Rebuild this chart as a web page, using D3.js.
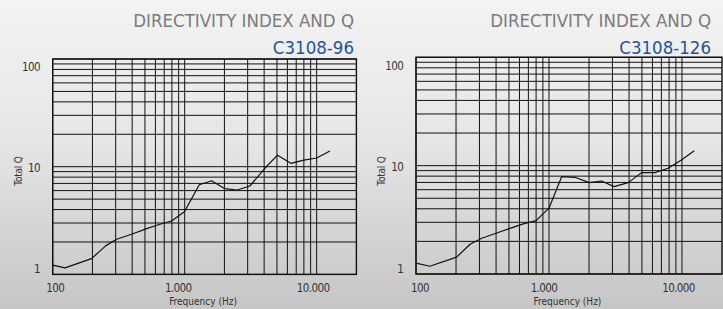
<!DOCTYPE html>
<html>
<head>
<meta charset="utf-8">
<script src="https://cdn.jsdelivr.net/npm/d3@7"></script>
<style>
  html, body { margin: 0; padding: 0; }
  body { width: 723px; height: 309px; overflow: hidden; }
  svg { display: block; }
</style>
</head>
<body>
<script>
// Courbes (fréquence en Hz, Q total)
const freq96 = [100, 124, 197, 253, 305, 396, 515, 650, 795, 995, 1290, 1600, 2016, 2500, 3120, 4050, 5050, 6375, 8000, 10000, 12600];
const q96    = [1.22, 1.15, 1.40, 1.85, 2.12, 2.36, 2.66, 2.92, 3.13, 3.82, 6.8, 7.4, 6.25, 6.08, 6.62, 9.67, 12.8, 10.75, 11.5, 12.05, 14.0];

const freq126 = [100, 127, 202, 255, 312, 400, 509, 641, 800, 1000, 1245, 1566, 2008, 2489, 3087, 3943, 4972, 6263, 7866, 9904, 12360];
const q126    = [1.26, 1.18, 1.43, 1.88, 2.14, 2.38, 2.64, 2.90, 3.11, 4.05, 7.91, 7.81, 6.97, 7.22, 6.4, 6.97, 8.62, 8.62, 9.46, 11.3, 13.7];

const titles = ["DIRECTIVITY INDEX AND Q", "DIRECTIVITY INDEX AND Q"];
const models = ["C3108-96", "C3108-126"];
const xTickValues = [100, 1000, 10000];
const xTickLabels = ["100", "1.000", "10.000"];
const yTickValues = [1, 10, 100];
const yTickLabels = ["1", "10", "100"];
const xLabel = "Frequency (Hz)";
const yLabel = "Total Q";

const W = 723, H = 309;
const font = "'Liberation Sans Narrow', 'DejaVu Sans Condensed', 'Liberation Sans', sans-serif";

const svg = d3.select("body").append("svg")
    .attr("width", W)
    .attr("height", H)
    .attr("viewBox", [0, 0, W, H]);

// fond dégradé gris
const defs = svg.append("defs");
const grad = defs.append("linearGradient")
    .attr("id", "bg")
    .attr("x1", 0).attr("y1", 0).attr("x2", 0).attr("y2", 1);
grad.append("stop").attr("offset", "0%").attr("stop-color", "#f3f3f3");
grad.append("stop").attr("offset", "45%").attr("stop-color", "#e6e6e6");
grad.append("stop").attr("offset", "100%").attr("stop-color", "#c6c6c6");
svg.append("rect").attr("width", W).attr("height", H).attr("fill", "url(#bg)");

// lignes de la grille : 1..9 par décade
function decadeValues(from, to) {
    const v = [];
    for (let d = from; d < to; d *= 10) {
        for (let k = 1; k < 10; k++) v.push(d * k);
    }
    v.push(to);
    return v;
}

const charts = [
    {freq: freq96, q: q96, left: 52.7, right: 356.4, top: 59, bottom: 274.4, titleX: 354, dx: [2.5, -6.5, -3.5]},
    {freq: freq126, q: q126, left: 416, right: 722, top: 57.3, bottom: 274, titleX: 711, dx: [4, -5, -3.5]}
];

charts.forEach((c, i) => {
    const g = svg.append("g");

    const x = d3.scaleLog().domain([100, 20000]).range([c.left, c.right]);
    const y = d3.scaleLog().domain([1, 100]).range([c.bottom, c.top]);
    // les libellés de l'axe Y sont un peu resserrés sur l'original
    const yLab = d3.scaleLog().domain([1, 100]).range([c.bottom - 5.3, c.top + 8.2]);

    // titres
    g.append("text")
        .attr("x", c.titleX).attr("y", 27.3)
        .attr("text-anchor", "end")
        .attr("font-family", font)
        .attr("font-size", 18.5)
        .attr("fill", "#7b7b7b")
        .text(titles[i]);
    g.append("text")
        .attr("x", c.titleX).attr("y", 54)
        .attr("text-anchor", "end")
        .attr("font-family", font)
        .attr("font-size", 18.5)
        .attr("fill", "#1d5690")
        .text(models[i]);

    const grid = g.append("g").attr("stroke", "#111").attr("stroke-width", 1).attr("fill", "none");

    grid.selectAll("line.v")
        .data(decadeValues(100, 10000))
        .join("line")
        .attr("class", "v")
        .attr("x1", d => x(d)).attr("x2", d => x(d))
        .attr("y1", c.top).attr("y2", c.bottom);

    grid.selectAll("line.h")
        .data(decadeValues(1, 100))
        .join("line")
        .attr("class", "h")
        .attr("x1", c.left).attr("x2", c.right)
        .attr("y1", d => y(d)).attr("y2", d => y(d));

    grid.append("rect")
        .attr("x", c.left).attr("y", c.top)
        .attr("width", c.right - c.left).attr("height", c.bottom - c.top)
        .attr("stroke-width", 1.4);

    // courbe
    const pts = c.freq.map((f, k) => [f, c.q[k]]);
    g.append("path")
        .datum(pts)
        .attr("fill", "none")
        .attr("stroke", "#111")
        .attr("stroke-width", 1.2)
        .attr("stroke-linejoin", "round")
        .attr("d", d3.line().x(d => x(d[0])).y(d => y(d[1])));

    // libellés axe X
    g.selectAll("text.xt")
        .data(xTickValues)
        .join("text")
        .attr("class", "xt")
        .attr("x", (d, k) => x(d) + c.dx[k])
        .attr("y", 291.7)
        .attr("text-anchor", "middle")
        .attr("font-family", font)
        .attr("font-size", 11.5)
        .attr("letter-spacing", -0.6)
        .attr("fill", "#333")
        .text((d, k) => xTickLabels[k]);

    // libellés axe Y
    g.selectAll("text.yt")
        .data(yTickValues)
        .join("text")
        .attr("class", "yt")
        .attr("x", c.left - 12.7)
        .attr("y", d => yLab(d))
        .attr("dy", "0.36em")
        .attr("text-anchor", "end")
        .attr("font-family", font)
        .attr("font-size", 11.5)
        .attr("letter-spacing", -0.6)
        .attr("fill", "#333")
        .text((d, k) => yTickLabels[k]);

    g.append("text")
        .attr("x", (c.left + c.right) / 2 - 1.5)
        .attr("y", 305)
        .attr("text-anchor", "middle")
        .attr("font-family", font)
        .attr("font-size", 10)
        .attr("fill", "#333")
        .text(xLabel);

    g.append("text")
        .attr("transform", `translate(${c.left - 31},${171}) rotate(-90)`)
        .attr("text-anchor", "middle")
        .attr("font-family", font)
        .attr("font-size", 10)
        .attr("letter-spacing", -0.2)
        .attr("fill", "#333")
        .text(yLabel);
});
</script>
</body>
</html>
